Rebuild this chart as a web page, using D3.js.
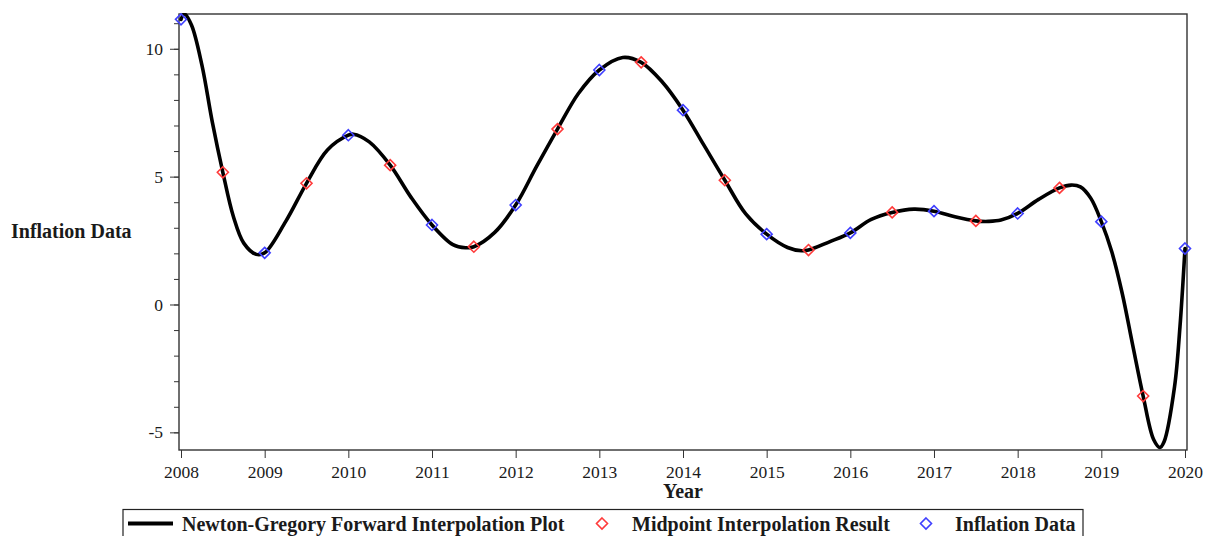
<!DOCTYPE html>
<html>
<head>
<meta charset="utf-8">
<script src="https://cdn.jsdelivr.net/npm/d3@7"></script>
<style>
  html, body { margin: 0; padding: 0; background: #fff; }
  svg { display: block; }
  text { font-family: "Liberation Serif", "Times New Roman", serif; fill: #1a1a1a; }
</style>
</head>
<body>
<svg id="chart" width="1210" height="536"></svg>
<script>
// Annual inflation observations
const years = [2008, 2009, 2010, 2011, 2012, 2013, 2014, 2015, 2016, 2017, 2018, 2019, 2020];
const inflation = [11.15, 2.02, 6.62, 3.11, 3.89, 9.17, 7.60, 2.75, 2.80, 3.65, 3.56, 3.24, 2.19];

// Interpolated values at the mid-year points
const midYears = [2008.5, 2009.5, 2010.5, 2011.5, 2012.5, 2013.5, 2014.5, 2015.5, 2016.5, 2017.5, 2018.5, 2019.5];
const midValues = [5.17, 4.74, 5.45, 2.26, 6.86, 9.47, 4.86, 2.13, 3.60, 3.27, 4.56, -3.58];

// Newton-Gregory forward interpolation curve, sampled along the year axis
const curveYears = [
  2008.00, 2008.04, 2008.125, 2008.25, 2008.375, 2008.5, 2008.625, 2008.75, 2008.90, 2009.00,
  2009.25, 2009.5, 2009.75, 2010.0, 2010.06, 2010.25, 2010.5, 2010.75, 2011.0, 2011.25,
  2011.40, 2011.5, 2011.75, 2012.0, 2012.25, 2012.5, 2012.75, 2013.0, 2013.28, 2013.5,
  2013.75, 2014.0, 2014.25, 2014.5, 2014.75, 2015.0, 2015.25, 2015.42, 2015.5, 2015.75,
  2016.0, 2016.25, 2016.5, 2016.76, 2017.0, 2017.25, 2017.5, 2017.65, 2017.8, 2018.0,
  2018.25, 2018.5, 2018.64, 2018.75, 2018.875, 2019.0, 2019.125, 2019.25, 2019.375, 2019.5,
  2019.625, 2019.70, 2019.75, 2019.875, 2019.94, 2020.0
];
const curveValues = [
  11.15, 11.36, 10.93, 9.36, 7.12, 5.17, 3.45, 2.40, 1.96, 2.02,
  3.24, 4.74, 6.04, 6.62, 6.66, 6.36, 5.45, 4.19, 3.11, 2.34,
  2.22, 2.26, 2.82, 3.89, 5.40, 6.86, 8.25, 9.17, 9.66, 9.47,
  8.71, 7.60, 6.23, 4.86, 3.54, 2.75, 2.23, 2.10, 2.13, 2.45,
  2.80, 3.33, 3.60, 3.73, 3.65, 3.43, 3.27, 3.25, 3.30, 3.56,
  4.11, 4.56, 4.67, 4.60, 4.15, 3.24, 2.06, 0.43, -1.59, -3.58,
  -5.28, -5.59, -5.37, -3.22, -0.87, 2.19
];

// Axis ticks
const xTicks = [2008, 2009, 2010, 2011, 2012, 2013, 2014, 2015, 2016, 2017, 2018, 2019, 2020];
const yTicks = [-5, 0, 5, 10];
const yMinorTicks = [-5, -4, -3, -2, -1, 0, 1, 2, 3, 4, 5, 6, 7, 8, 9, 10, 11];

const legendItems = [
  { kind: "line", label: "Newton-Gregory Forward Interpolation Plot" },
  { kind: "mid", label: "Midpoint Interpolation Result" },
  { kind: "obs", label: "Inflation Data" }
];

const plot = { left: 179, right: 1187, top: 14, bottom: 450 };
const colors = { line: "#000000", mid: "#ff3a3a", obs: "#3f3fff", frame: "#333333" };

const svg = d3.select("#chart");

const x = d3.scaleLinear().domain([2007.976, 2020.024]).range([plot.left, plot.right]);
const y = d3.scaleLinear().domain([-5.69, 11.36]).range([plot.bottom, plot.top]);

svg.append("defs").append("clipPath").attr("id", "plot-clip")
  .append("rect")
  .attr("x", plot.left).attr("y", plot.top - 1)
  .attr("width", plot.right - plot.left).attr("height", plot.bottom - plot.top + 1);

// y axis: minor ticks then labelled major ticks
const yMinor = d3.axisLeft(y).tickValues(yMinorTicks).tickSize(5).tickFormat("");
svg.append("g").attr("transform", `translate(${plot.left},0)`).call(yMinor)
  .call(g => g.select(".domain").remove())
  .call(g => g.selectAll("line").attr("stroke", colors.frame));

const yAxis = d3.axisLeft(y).tickValues(yTicks).tickSize(9).tickPadding(7)
  .tickFormat(d => d < 0 ? "-" + Math.abs(d) : String(d));
svg.append("g").attr("transform", `translate(${plot.left},0)`).call(yAxis)
  .call(g => g.select(".domain").remove())
  .call(g => g.selectAll("line").attr("stroke", colors.frame))
  .call(g => g.selectAll("text")
    .attr("font-family", "'Liberation Serif', 'Times New Roman', serif")
    .attr("font-size", 17.5).attr("fill", "#1a1a1a"));

// x axis
const xAxis = d3.axisBottom(x).tickValues(xTicks).tickSize(8).tickPadding(8).tickFormat(d3.format("d"));
svg.append("g").attr("transform", `translate(0,${plot.bottom})`).call(xAxis)
  .call(g => g.select(".domain").remove())
  .call(g => g.selectAll("line").attr("stroke", colors.frame))
  .call(g => g.selectAll("text")
    .attr("font-family", "'Liberation Serif', 'Times New Roman', serif")
    .attr("font-size", 17.5).attr("fill", "#1a1a1a"));

// plot frame
svg.append("rect")
  .attr("x", plot.left).attr("y", plot.top)
  .attr("width", plot.right - plot.left).attr("height", plot.bottom - plot.top)
  .attr("fill", "none").attr("stroke", colors.frame).attr("stroke-width", 1.4);

// axis titles
svg.append("text")
  .attr("x", 11).attr("y", 238)
  .attr("font-size", 20).attr("font-weight", "bold")
  .text("Inflation Data");

svg.append("text")
  .attr("x", (plot.left + plot.right) / 2).attr("y", 498)
  .attr("text-anchor", "middle")
  .attr("font-size", 20).attr("font-weight", "bold")
  .text("Year");

// interpolation curve
const curveData = curveYears.map((yr, i) => ({ yr, v: curveValues[i] }));
const line = d3.line().x(d => x(d.yr)).y(d => y(d.v)).curve(d3.curveCatmullRom.alpha(0.5));

svg.append("g").attr("clip-path", "url(#plot-clip)")
  .append("path")
  .datum(curveData)
  .attr("d", line)
  .attr("fill", "none")
  .attr("stroke", colors.line)
  .attr("stroke-width", 3.6)
  .attr("stroke-linejoin", "round")
  .attr("stroke-linecap", "round");

// diamond marker outline centred on the origin
const diamond = r => `M0,${-r}L${r},0L0,${r}L${-r},0Z`;
const markerR = 5.5;

svg.append("g").selectAll("path")
  .data(midYears.map((yr, i) => ({ yr, v: midValues[i] })))
  .join("path")
  .attr("transform", d => `translate(${x(d.yr)},${y(d.v)})`)
  .attr("d", diamond(markerR))
  .attr("fill", "none").attr("stroke", colors.mid).attr("stroke-width", 1.6);

svg.append("g").selectAll("path")
  .data(years.map((yr, i) => ({ yr, v: inflation[i] })))
  .join("path")
  .attr("transform", d => `translate(${x(d.yr)},${y(d.v)})`)
  .attr("d", diamond(markerR))
  .attr("fill", "none").attr("stroke", colors.obs).attr("stroke-width", 1.6);

// legend
const legend = svg.append("g");
legend.append("rect")
  .attr("x", 123).attr("y", 509.5)
  .attr("width", 960).attr("height", 40)
  .attr("fill", "none").attr("stroke", "#222").attr("stroke-width", 1.2);

const legendY = 523.5;
const legendPos = [
  { sym: 128, text: 182 },
  { sym: 602, text: 632 },
  { sym: 926, text: 955 }
];
legendItems.forEach((item, i) => {
  const p = legendPos[i];
  if (item.kind === "line") {
    legend.append("line")
      .attr("x1", p.sym).attr("x2", p.sym + 45)
      .attr("y1", legendY).attr("y2", legendY)
      .attr("stroke", colors.line).attr("stroke-width", 4);
  } else {
    legend.append("path")
      .attr("transform", `translate(${p.sym},${legendY})`)
      .attr("d", diamond(markerR))
      .attr("fill", "none")
      .attr("stroke", item.kind === "mid" ? colors.mid : colors.obs)
      .attr("stroke-width", 1.6);
  }
  legend.append("text")
    .attr("x", p.text).attr("y", legendY + 7)
    .attr("font-size", 20).attr("font-weight", "bold")
    .text(item.label);
});
</script>
</body>
</html>
